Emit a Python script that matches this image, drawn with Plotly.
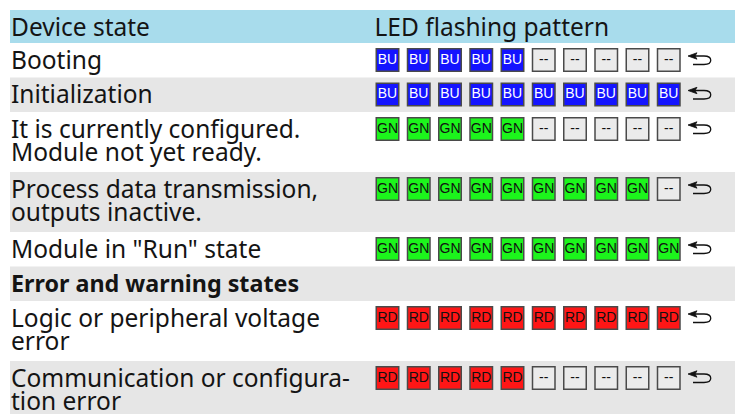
import plotly.graph_objects as go

# ---- data ----
header = ["Device state", "LED flashing pattern"]
states = [
    ["Booting"],
    ["Initialization"],
    ["It is currently configured.", "Module not yet ready."],
    ["Process data transmission,", "outputs inactive."],
    ['Module in "Run" state'],
    ["Error and warning states"],
    ["Logic or peripheral voltage", "error"],
    ["Communication or configura-", "tion error"],
]
section_rows = [5]  # bold section headings
patterns = [
    ["BU"] * 5 + ["--"] * 5,
    ["BU"] * 10,
    ["GN"] * 5 + ["--"] * 5,
    ["GN"] * 9 + ["--"] * 1,
    ["GN"] * 10,
    None,
    ["RD"] * 10,
    ["RD"] * 5 + ["--"] * 5,
]
led_fill = {"BU": "#1414ff", "GN": "#1cf51c", "RD": "#ff1616", "--": "#ebebeb"}
led_text = {"BU": "#ffffff", "GN": "#111111", "RD": "#111111", "--": "#111111"}

# ---- layout geometry (pixel-like data units) ----
W, H = 735, 414
x_left, x_right = 10, 735
header_top, header_h = 10, 33
line_h = 23
row_h_single, row_h_double = 34.5, 60
text_x = 11
text_dy = 2.5
led_x0, led_dx = 387.5, 31.25
font_main = "Noto Sans"
fs = 24.5
fs_bold = 23.3

fig = go.Figure()
shapes = []

# header
shapes.append(dict(type="rect", xref="x", yref="y", x0=x_left, x1=x_right,
                   y0=header_top, y1=header_top + header_h,
                   fillcolor="#a8dcec", line=dict(width=0), layer="below"))
hy = header_top + header_h / 2 + 3
fig.add_trace(go.Scatter(x=[text_x, led_x0 - 13], y=[hy, hy], mode="text",
                         text=header, textposition="middle right",
                         textfont=dict(family=font_main, size=fs, color="#141414"),
                         hoverinfo="skip", showlegend=False))

top = header_top + header_h
for i, lines in enumerate(states):
    h = row_h_single if len(lines) == 1 else row_h_double
    if i % 2 == 1:
        shapes.append(dict(type="rect", xref="x", yref="y", x0=x_left, x1=x_right,
                           y0=top, y1=top + h, fillcolor="#e6e6e6",
                           line=dict(width=0), layer="below"))
    cy = top + 17
    bold = i in section_rows
    for k, ln in enumerate(lines):
        fig.add_trace(go.Scatter(
            x=[text_x], y=[cy + text_dy + k * line_h], mode="text",
            text=["<b>%s</b>" % ln if bold else ln], textposition="middle right",
            textfont=dict(family=font_main, size=fs_bold if bold else fs, color="#141414"),
            hoverinfo="skip", showlegend=False))
    pat = patterns[i]
    if pat is not None:
        xs = [led_x0 + j * led_dx for j in range(len(pat))]
        fig.add_trace(go.Scatter(
            x=xs, y=[cy] * len(pat), mode="markers+text", text=pat,
            textposition="middle center",
            marker=dict(symbol="square", size=22.5,
                        color=[led_fill[p] for p in pat],
                        line=dict(color="#4a4a4a", width=1.5)),
            textfont=dict(family="Liberation Sans", size=14,
                          color=[led_text[p] for p in pat]),
            hoverinfo="skip", showlegend=False))
        # loop arrow
        ax = led_x0 + len(pat) * led_dx - 12
        t, b = cy - 4, cy + 4.5
        shapes.append(dict(type="path", xref="x", yref="y",
                           path=f"M {ax+6} {t} L {ax+16} {t} C {ax+25} {t}, {ax+25} {b}, {ax+16} {b} L {ax+5} {b}",
                           line=dict(color="#111111", width=1.3)))
        shapes.append(dict(type="path", xref="x", yref="y",
                           path=f"M {ax} {t} L {ax+9} {t-3.2} L {ax+7} {t} L {ax+9} {t+3.2} Z",
                           fillcolor="#111111", line=dict(color="#111111", width=0.8)))
    top += h

fig.update_layout(
    width=W, height=H, margin=dict(l=0, r=0, t=0, b=0),
    paper_bgcolor="white", plot_bgcolor="white", shapes=shapes,
    xaxis=dict(range=[0, W], visible=False, fixedrange=True),
    yaxis=dict(range=[H, 0], visible=False, fixedrange=True),
)
fig.write_html("out.html", config={"displayModeBar": False},
               post_script="document.body.style.margin='0';document.body.style.overflow='hidden';")
